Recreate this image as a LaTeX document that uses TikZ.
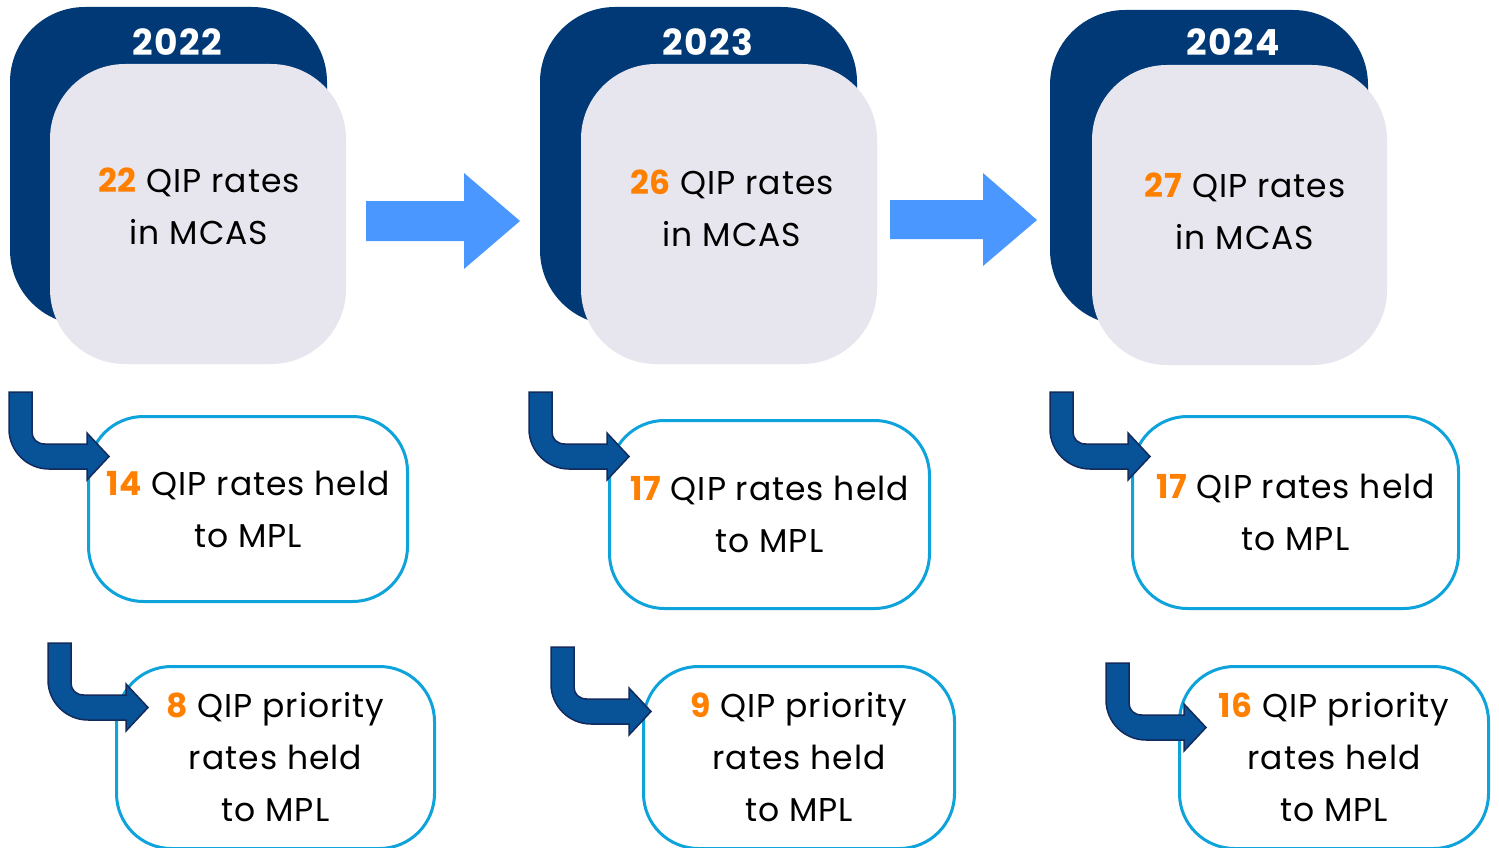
\documentclass[tikz,border=0pt]{standalone}
\usepackage{fontspec}
\setmainfont{Poppins}
\newfontfamily\bodyfont[LetterSpace=3]{Poppins}
\newfontfamily\yearfont[LetterSpace=4]{Poppins}
\definecolor{navy}{RGB}{0,57,118}
\definecolor{paleg}{RGB}{231,230,238}
\definecolor{cyanline}{RGB}{15,163,220}
\definecolor{numorange}{RGB}{255,127,0}
\definecolor{arrblue}{RGB}{74,152,255}
\definecolor{bentfill}{RGB}{8,82,152}
\definecolor{bentline}{RGB}{18,42,92}
\newcommand{\num}[1]{\textbf{\color{numorange}#1}}
\tikzset{
  backbox/.style={fill=navy, rounded corners=75pt, inner sep=0pt, outer sep=0pt},
  frontbox/.style={fill=paleg, rounded corners=75pt, inner sep=0pt, outer sep=0pt},
  yearlbl/.style={text=white, font=\yearfont\fontsize{36}{40}\selectfont\bfseries},
  bodytxt/.style={align=center, font=\bodyfont\fontsize{33}{52}\selectfont},
  ratebox/.style={draw=cyanline, line width=3pt, fill=white, rounded corners=55pt,
     inner sep=0pt, align=center, font=\bodyfont\fontsize{33}{52}\selectfont},
  bentarrow/.pic={
    \path[fill=bentfill, draw=bentline, line width=1.5pt, line join=miter]
      (0,0) -- (23,0) -- (23,40) .. controls (23,47) and (28,52) .. (36,52)
      -- (78,52) -- (78,41) -- (100,64.5) -- (78,88) -- (78,77) -- (40,77)
      .. controls (18,77) and (0,59) .. (0,37) -- cycle;
  },
}
\begin{document}
\begin{tikzpicture}[x=1pt,y=-1pt]
\useasboundingbox (0,0) rectangle (1499,848);
\clip (0,0) rectangle (1499,848);
\fill[white] (0,0) rectangle (1499,848);

% top row
\node[backbox, minimum width=317pt, minimum height=318pt] (b1) at (168.5,166) {};
\node[backbox, minimum width=317pt, minimum height=318pt] (b2) at (698.5,166) {};
\node[backbox, minimum width=318pt, minimum height=315pt] (b3) at (1209,167.5) {};
\node[yearlbl] (y1) at (177,42) {2022};
\node[yearlbl] (y2) at (708,42) {2023};
\node[yearlbl] (y3) at (1233,42) {2024};
\node[frontbox, minimum width=296pt, minimum height=300pt] (f1) at (198,214) {};
\node[frontbox, minimum width=296pt, minimum height=300pt] (f2) at (729,214) {};
\node[frontbox, minimum width=295pt, minimum height=300pt] (f3) at (1239.5,215) {};
\node[bodytxt] (t1) at (199,206) {\num{22} QIP rates\\in MCAS};
\node[bodytxt] (t2) at (732,208) {\num{26} QIP rates\\in MCAS};
\node[bodytxt] (t3) at (1245,211) {\num{27} QIP rates\\in MCAS};

% straight arrows
\fill[arrblue] (366,201) -- (464,201) -- (464,173) -- (520,221) -- (464,269) -- (464,241) -- (366,241) -- cycle;
\fill[arrblue] (890,200) -- (983,200) -- (983,173) -- (1037,220) -- (983,266) -- (983,239) -- (890,239) -- cycle;

% middle row
\node[ratebox, minimum width=319pt, minimum height=185pt] (m1) at (248,509) {\num{14} QIP rates held\\to MPL};
\node[ratebox, minimum width=320pt, minimum height=188pt] (m2) at (769.5,514.5) {\num{17} QIP rates held\\to MPL};
\node[ratebox, minimum width=326pt, minimum height=192pt] (m3) at (1295.5,512.5) {\num{17} QIP rates held\\to MPL};

% bottom row
\node[ratebox, minimum width=318pt, minimum height=182pt] (p1) at (275.5,757.5) {\num{8} QIP priority\\rates held\\to MPL};
\node[ratebox, minimum width=311pt, minimum height=182pt] (p2) at (799,757.5) {\num{9} QIP priority\\rates held\\to MPL};
\node[ratebox, minimum width=309pt, minimum height=182pt] (p3) at (1334,757.5) {\num{16} QIP priority\\rates held\\to MPL};

% bent arrows
\pic at (9,392) {bentarrow};
\pic at (48,643) {bentarrow};
\pic at (529,392) {bentarrow};
\pic at (551,647) {bentarrow};
\pic at (1050,392) {bentarrow};
\pic at (1106,663) {bentarrow};
\end{tikzpicture}
\end{document}
